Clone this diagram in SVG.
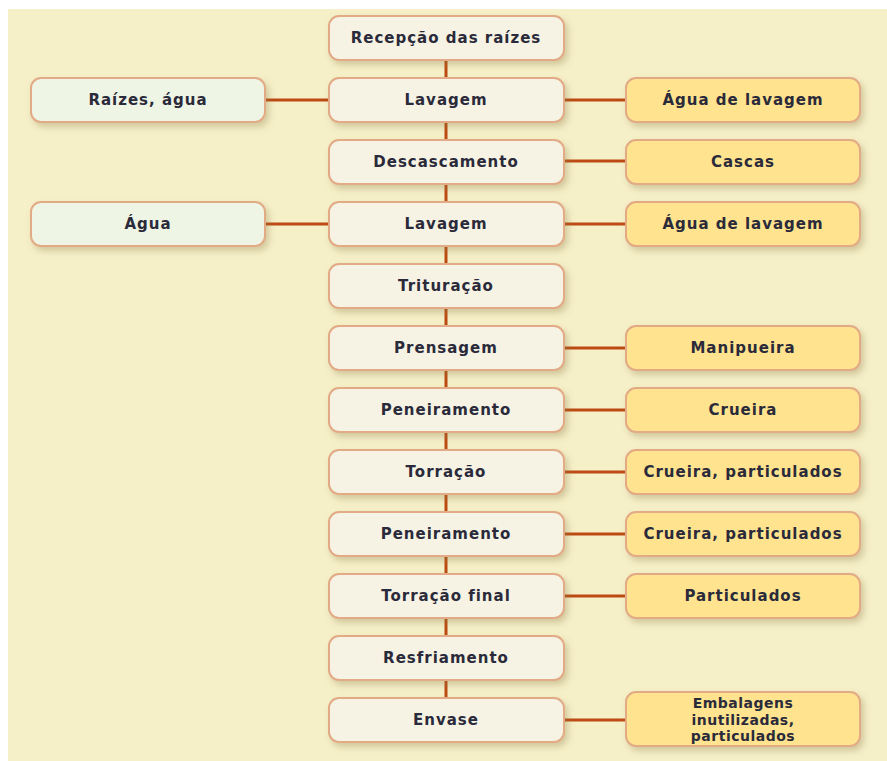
<svg xmlns="http://www.w3.org/2000/svg" width="887" height="761" viewBox="0 0 887 761">
<defs>
<filter id="sh" x="-10%" y="-20%" width="130%" height="160%">
<feDropShadow dx="3" dy="4" stdDeviation="3.5" flood-color="#8a7a40" flood-opacity="0.35"/>
</filter>
<style>
.b{stroke:#E2AA85;stroke-width:2;filter:url(#sh)}
.m{fill:#F6F3E4}
.l{fill:#EFF5E4}
.r{fill:#FFE38E}
.t{font-family:"DejaVu Sans","Open Sans",sans-serif;font-weight:bold;font-size:15px;letter-spacing:1px;fill:#2A2A3A;text-anchor:middle;dominant-baseline:central}
.s{font-size:14px;letter-spacing:0.5px}
.c{stroke:#BC4A12;stroke-width:3;fill:none}
</style>
</defs>
<rect x="0" y="0" width="887" height="761" fill="#FFFFFF"/>
<rect x="8" y="9" width="879" height="752" fill="#F6F0C9"/>
<g id="connectors">
<path class="c" d="M446 60V698"/>
<path class="c" d="M265 100H329M564 100H626"/>
<path class="c" d="M564 161H626"/>
<path class="c" d="M265 224H329M564 224H626"/>
<path class="c" d="M564 348H626M564 410H626M564 472H626M564 534H626M564 596H626M564 720H626"/>
</g>
<g id="n1"><rect class="b m" x="329" y="16" width="235" height="44" rx="10"/><text class="t" x="446" y="38">Recepção das raízes</text></g>
<g id="n2"><rect class="b m" x="329" y="78" width="235" height="44" rx="10"/><text class="t" x="446" y="100">Lavagem</text></g>
<g id="n3"><rect class="b m" x="329" y="140" width="235" height="44" rx="10"/><text class="t" x="446" y="162">Descascamento</text></g>
<g id="n4"><rect class="b m" x="329" y="202" width="235" height="44" rx="10"/><text class="t" x="446" y="224">Lavagem</text></g>
<g id="n5"><rect class="b m" x="329" y="264" width="235" height="44" rx="10"/><text class="t" x="446" y="286">Trituração</text></g>
<g id="n6"><rect class="b m" x="329" y="326" width="235" height="44" rx="10"/><text class="t" x="446" y="348">Prensagem</text></g>
<g id="n7"><rect class="b m" x="329" y="388" width="235" height="44" rx="10"/><text class="t" x="446" y="410">Peneiramento</text></g>
<g id="n8"><rect class="b m" x="329" y="450" width="235" height="44" rx="10"/><text class="t" x="446" y="472">Torração</text></g>
<g id="n9"><rect class="b m" x="329" y="512" width="235" height="44" rx="10"/><text class="t" x="446" y="534">Peneiramento</text></g>
<g id="n10"><rect class="b m" x="329" y="574" width="235" height="44" rx="10"/><text class="t" x="446" y="596">Torração final</text></g>
<g id="n11"><rect class="b m" x="329" y="636" width="235" height="44" rx="10"/><text class="t" x="446" y="658">Resfriamento</text></g>
<g id="n12"><rect class="b m" x="329" y="698" width="235" height="44" rx="10"/><text class="t" x="446" y="720">Envase</text></g>
<g id="l1"><rect class="b l" x="31" y="78" width="234" height="44" rx="10"/><text class="t" x="148" y="100">Raízes, água</text></g>
<g id="l2"><rect class="b l" x="31" y="202" width="234" height="44" rx="10"/><text class="t" x="148" y="224">Água</text></g>
<g id="r1"><rect class="b r" x="626" y="78" width="234" height="44" rx="10"/><text class="t" x="743" y="100">Água de lavagem</text></g>
<g id="r2"><rect class="b r" x="626" y="140" width="234" height="44" rx="10"/><text class="t" x="743" y="162">Cascas</text></g>
<g id="r3"><rect class="b r" x="626" y="202" width="234" height="44" rx="10"/><text class="t" x="743" y="224">Água de lavagem</text></g>
<g id="r4"><rect class="b r" x="626" y="326" width="234" height="44" rx="10"/><text class="t" x="743" y="348">Manipueira</text></g>
<g id="r5"><rect class="b r" x="626" y="388" width="234" height="44" rx="10"/><text class="t" x="743" y="410">Crueira</text></g>
<g id="r6"><rect class="b r" x="626" y="450" width="234" height="44" rx="10"/><text class="t" x="743" y="472">Crueira, particulados</text></g>
<g id="r7"><rect class="b r" x="626" y="512" width="234" height="44" rx="10"/><text class="t" x="743" y="534">Crueira, particulados</text></g>
<g id="r8"><rect class="b r" x="626" y="574" width="234" height="44" rx="10"/><text class="t" x="743" y="596">Particulados</text></g>
<g id="r9"><rect class="b r" x="626" y="692" width="234" height="54" rx="10"/><text class="t s" x="743" y="703">Embalagens</text><text class="t s" x="743" y="719.5">inutilizadas,</text><text class="t s" x="743" y="736">particulados</text></g>
</svg>
